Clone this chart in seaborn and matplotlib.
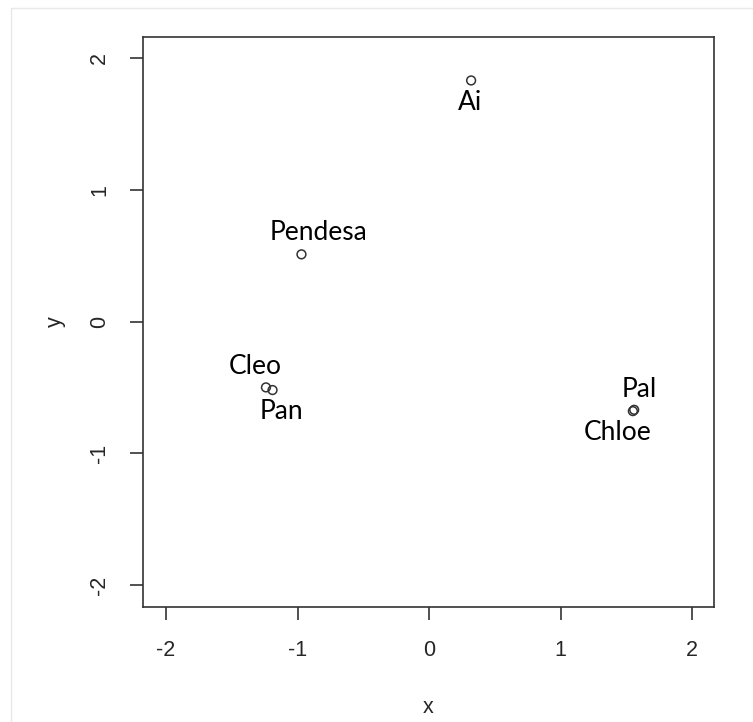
import matplotlib
matplotlib.use("Agg")
import matplotlib.pyplot as plt
import seaborn as sns
import pandas as pd

names = ["Ai", "Pendesa", "Cleo", "Pan", "Pal", "Chloe"]
x_vals = [0.32, -0.97, -1.24, -1.19, 1.56, 1.55]
y_vals = [1.83, 0.51, -0.50, -0.52, -0.67, -0.68]
ticks = [-2, -1, 0, 1, 2]

# label offsets in pixels (dx, dy) relative to each point
label_off = [(-1, -22), (17, 22), (-11, 21), (9, -21), (5, 20), (-15, -21)]

df = pd.DataFrame({"x": x_vals, "y": y_vals, "name": names})

sns.set_style("white")
plt.rcParams["font.family"] = ["Liberation Sans", "DejaVu Sans"]

fig = plt.figure(figsize=(7.53, 7.22), dpi=100)
ax = fig.add_axes([143 / 753, 115 / 722, 571 / 753, 570 / 722])

sns.scatterplot(data=df, x="x", y="y", ax=ax, s=40, marker="o",
                facecolors="none", edgecolor="#333333", linewidth=1.1)

for (n, xv, yv), (dx, dy) in zip(zip(names, x_vals, y_vals), label_off):
    ax.annotate(n, (xv, yv), xytext=(dx * 0.72, dy * 0.72), textcoords="offset points",
                ha="center", va="center", fontsize=19, family=["Lato", "DejaVu Sans"],
                color="black")

ax.set_xlim(-2.175, 2.167)
ax.set_ylim(-2.167, 2.16)
ax.set_xticks(ticks)
ax.set_yticks(ticks)
ax.set_xticklabels([str(t) for t in ticks], fontsize=15.5)
ax.set_yticklabels([str(t) for t in ticks], fontsize=15.5, rotation=90, va="center")
ax.tick_params(axis="both", direction="out", length=9.5, width=1.2, color="#333333",
               pad=14, bottom=True, left=True)
ax.set_xlabel("x", fontsize=15.5, labelpad=26)
ax.set_ylabel("y", fontsize=15.5, labelpad=17)

for sp in ax.spines.values():
    sp.set_visible(True)
    sp.set_color("#333333")
    sp.set_linewidth(1.2)

# faint frame lines of the original screenshot
fig.add_artist(plt.Line2D([11 / 753, 11 / 753], [0, 714 / 722], color="#e8e8e8", lw=1))
fig.add_artist(plt.Line2D([11 / 753, 1], [714 / 722, 714 / 722], color="#e8e8e8", lw=1))

fig.savefig("out.png", dpi=100)
